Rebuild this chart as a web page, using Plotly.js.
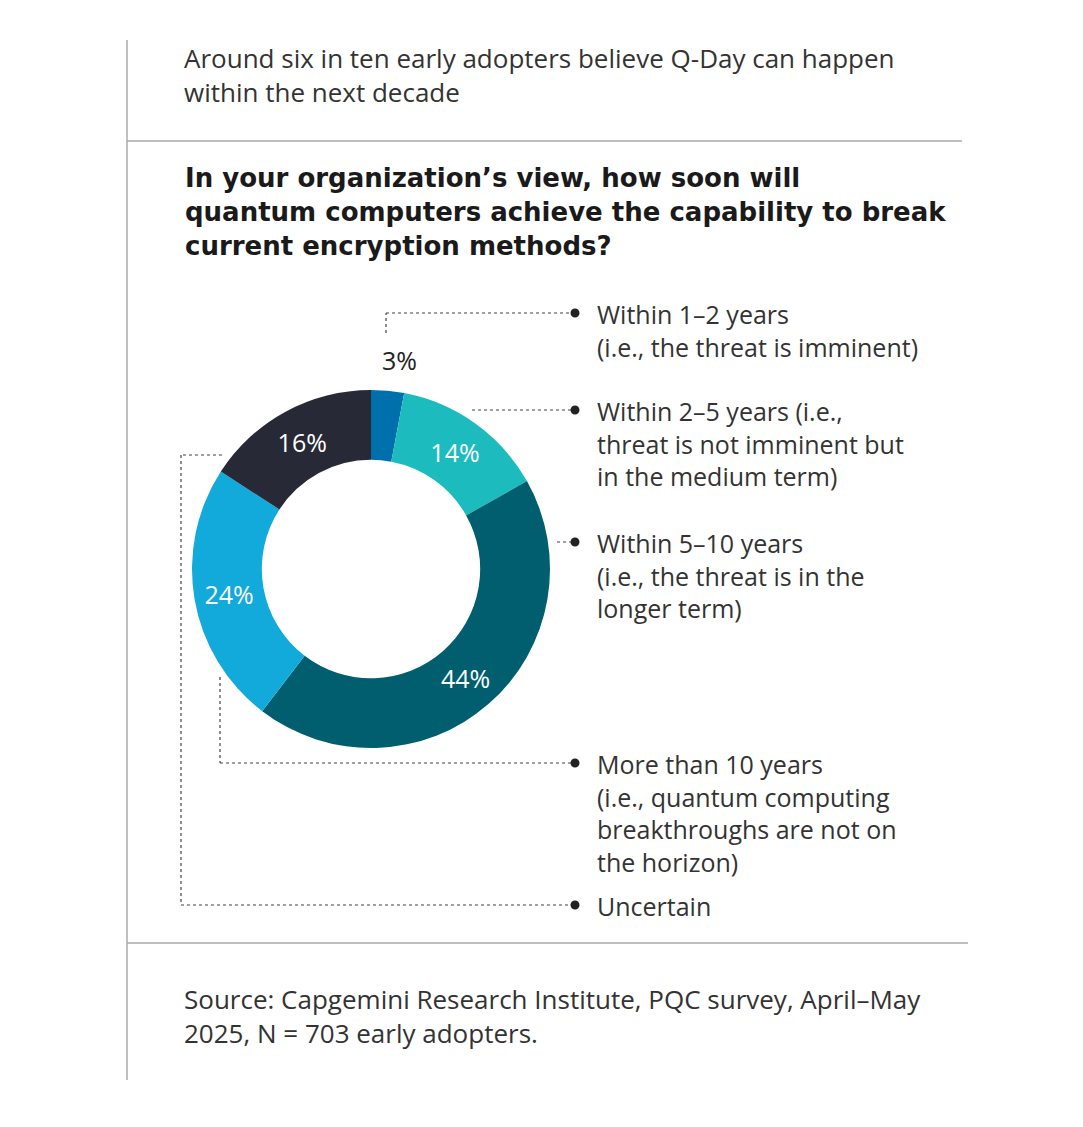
<!DOCTYPE html>
<html>
<head>
<meta charset="utf-8">
<script src="https://cdn.plot.ly/plotly-3.0.1.min.js"></script>
<style>
html,body{margin:0;padding:0;background:#fff;}
#chart{width:1083px;height:1127px;}
</style>
</head>
<body>
<div id="chart"></div>
<script>
// ---- data ----
const categories = [
  ["Within 1–2 years", "(i.e., the threat is imminent)"],
  ["Within 2–5 years (i.e.,", "threat is not imminent but", "in the medium term)"],
  ["Within 5–10 years", "(i.e., the threat is in the", "longer term)"],
  ["More than 10 years", "(i.e., quantum computing", "breakthroughs are not on", "the horizon)"],
  ["Uncertain"]
];
const shares = [3, 14, 44, 24, 16];
const sliceColors = ["#0070AD", "#1CBCBE", "#005E6E", "#12A9DB", "#272936"];
const insideLabel = [false, true, true, true, true];

const titleLines = ["Around six in ten early adopters believe Q-Day can happen", "within the next decade"];
const questionLines = ["In your organization’s view, how soon will", "quantum computers achieve the capability to break", "current encryption methods?"];
const sourceLines = ["Source: Capgemini Research Institute, PQC survey, April–May", "2025, N = 703 early adopters."];

// ---- layout helpers ----
const W = 1083, H = 1127;
const px = x => x / W;
const py = y => 1 - y / H;
const FONT = "Open Sans, Noto Sans, sans-serif";
const BOLDFONT = "DejaVu Sans, Open Sans, sans-serif";
const cx = 371, cy = 569, R = 179;

const total = shares.reduce((a, b) => a + b, 0);

const trace = {
  type: "pie",
  values: shares,
  labels: categories.map(c => c.join(" ")),
  sort: false,
  direction: "clockwise",
  rotation: 0,
  hole: 0.61,
  marker: {colors: sliceColors, line: {width: 0}},
  textinfo: "text",
  text: shares.map((v, i) => insideLabel[i] ? v + "%" : ""),
  textposition: "inside",
  insidetextorientation: "horizontal",
  insidetextfont: {family: FONT, size: 25, color: "#ffffff"},
  hoverinfo: "none",
  showlegend: false,
  domain: {x: [px(cx - R), px(cx + R)], y: [py(cy + R), py(cy - R)]}
};

const lineColor = "#444";
const dash = "3px,3px";
function seg(x0, y0, x1, y1) {
  return {type: "line", xref: "paper", yref: "paper", x0: px(x0), y0: py(y0), x1: px(x1), y1: py(y1),
          line: {color: lineColor, width: 1.2, dash: dash}};
}
function dot(x, y) {
  const r = 4.5;
  return {type: "circle", xref: "paper", yref: "paper", x0: px(x - r), x1: px(x + r), y0: py(y + r), y1: py(y - r),
          fillcolor: "#222", line: {width: 0}};
}
const dotX = 575;
const rowY = [313, 410, 542, 763, 905];

const shapes = [
  // frame lines
  {type: "line", xref: "paper", yref: "paper", x0: px(127), x1: px(127), y0: py(40), y1: py(1080), line: {color: "#aaa", width: 1.5}},
  {type: "line", xref: "paper", yref: "paper", x0: px(127), x1: px(962), y0: py(141), y1: py(141), line: {color: "#aaa", width: 1.5}},
  {type: "line", xref: "paper", yref: "paper", x0: px(127), x1: px(968), y0: py(943), y1: py(943), line: {color: "#aaa", width: 1.5}},
  // leaders
  seg(386, 333, 386, rowY[0]), seg(386, rowY[0], dotX, rowY[0]),
  seg(472, rowY[1], dotX, rowY[1]),
  seg(557, rowY[2], dotX, rowY[2]),
  seg(220, 677, 220, rowY[3]), seg(220, rowY[3], dotX, rowY[3]),
  seg(222, 455, 181, 455), seg(181, 455, 181, rowY[4]), seg(181, rowY[4], dotX, rowY[4])
].concat(rowY.map(y => dot(dotX, y)));

function block(lines, x, yTop, font) {
  return {text: lines.join("<br>"), x: px(x), y: py(yTop), xanchor: "left", yanchor: "top", align: "left", font: font};
}

let annotations = [
  block(titleLines, 182, 38, {family: FONT, size: 26, color: "#333"}),
  block(questionLines.map(t => "<b>" + t + "</b>"), 183, 161, {family: BOLDFONT, size: 26, color: "#1a1a1a"}),
  block(sourceLines, 182, 979, {family: FONT, size: 26, color: "#333"})
];
categories.forEach((c, i) => {
  annotations.push(block(c, 595, rowY[i] - 18, {family: FONT, size: 25, color: "#333"}));
});
// outside label(s) for slices too thin for inside text, placed on the slice's mid-angle
let cum = 0;
shares.forEach((v, i) => {
  const mid = (cum + v / 2) / total * 2 * Math.PI;
  cum += v;
  if (!insideLabel[i]) {
    const r = R + 31;
    annotations.push({text: v + "%", x: px(cx + r * Math.sin(mid) + 9), y: py(cy - r * Math.cos(mid)),
                      xanchor: "center", yanchor: "middle", font: {family: FONT, size: 25, color: "#222"}});
  }
});
annotations = annotations.map(a => Object.assign({xref: "paper", yref: "paper", showarrow: false}, a));

const layout = {
  width: W, height: H,
  margin: {l: 0, r: 0, t: 0, b: 0},
  paper_bgcolor: "#fff", plot_bgcolor: "#fff",
  shapes: shapes,
  annotations: annotations
};

Plotly.newPlot("chart", [trace], layout, {displayModeBar: false, staticPlot: true});
</script>
</body>
</html>
